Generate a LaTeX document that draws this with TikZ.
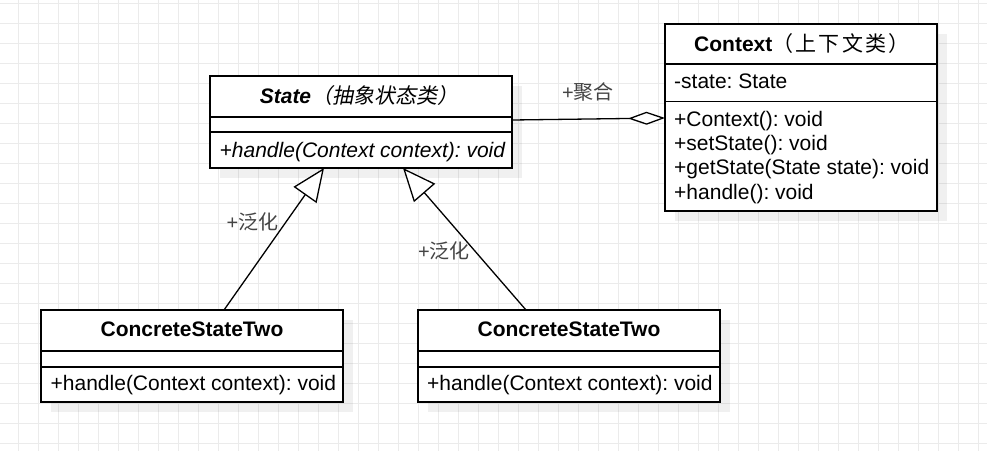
\documentclass[tikz,border=0pt]{standalone}
\usepackage{fontspec}
\setmainfont{Liberation Sans}
\newfontfamily\cjk{Noto Sans CJK SC}
\newfontfamily\cjkwide[LetterSpace=11]{Noto Sans CJK SC}
\newfontfamily\cjkit[FakeSlant=0.2]{Noto Sans CJK SC}
\usetikzlibrary{arrows.meta}
\definecolor{gridc}{HTML}{EBEBEB}
\definecolor{labelc}{HTML}{444444}
\frenchspacing
\begin{document}
\frenchspacing
\begin{tikzpicture}[x=1pt,y=-1pt,
  umlbox/.style={draw=black, line width=1.3pt, fill=white, inner sep=0pt, outer sep=0pt, anchor=north west},
  divider/.style={draw=black, line width=1.3pt},
  shadowc/.style={fill=black, fill opacity=0.06},
  txt/.style={font=\fontsize{21}{24}\selectfont, inner sep=0pt},
  lbl/.style={font=\fontsize{20}{24}\selectfont, inner sep=0pt, text=labelc, anchor=base west},
  gen/.style={draw=black, line width=1.3pt, -{Triangle[open, length=33pt, width=28pt, line width=1.3pt, fill=white]}},
  agg/.style={draw=black, line width=1.3pt, -{Diamond[open, length=37pt, width=13pt, line width=1.3pt, fill=white]}}]
\useasboundingbox (0,0) rectangle (987,451);
\fill[white] (0,0) rectangle (987,451);
% grid
\foreach \gx in {18,38,...,978} \draw[gridc, line width=1pt] (\gx,0) -- (\gx,451);
\foreach \gy in {3,23,...,443} \draw[gridc, line width=1pt] (0,\gy) -- (987,\gy);
% shadows
\fill[shadowc] (220,86) rectangle (522,178);
\fill[shadowc] (675,34) rectangle (947,221);
\fill[shadowc] (51,320) rectangle (353,412);
\fill[shadowc] (428,320) rectangle (730,412);
% State
\node[umlbox, minimum width=302pt, minimum height=92pt] (state) at (210,76) {};
\draw[divider] ([yshift=-41pt]state.north west) -- ([yshift=-41pt]state.north east);
\draw[divider] ([yshift=-56pt]state.north west) -- ([yshift=-56pt]state.north east);
\node[txt, anchor=base] (statetitle) at (359,103.5) {{\bfseries\itshape State}{\cjkit（抽象状态类）}};
\node[txt, anchor=base west] (statem) at (219.5,157.5) {\itshape +handle(Context context): void};
% Context
\node[umlbox, minimum width=272pt, minimum height=187pt] (context) at (665,24) {};
\draw[divider] ([yshift=-40pt]context.north west) -- ([yshift=-40pt]context.north east);
\draw[divider] ([yshift=-77.5pt]context.north west) -- ([yshift=-77.5pt]context.north east);
\node[txt, anchor=base west] (ctxtitle) at (694,51.7) {{\bfseries Context}{\cjkwide（上下文类）}};
\node[txt, anchor=base west] (ctxa) at (674,88.5) {-state: State};
\node[txt, anchor=base west] (ctxm1) at (674,126) {+Context(): void};
\node[txt, anchor=base west] (ctxm2) at (674,150.7) {+setState(): void};
\node[txt, anchor=base west] (ctxm3) at (674,174.5) {+getState(State state): void};
\node[txt, anchor=base west] (ctxm4) at (674,199) {+handle(): void};
% ConcreteStateTwo left
\node[umlbox, minimum width=302pt, minimum height=92pt] (cone) at (41,310) {};
\draw[divider] ([yshift=-41pt]cone.north west) -- ([yshift=-41pt]cone.north east);
\draw[divider] ([yshift=-57pt]cone.north west) -- ([yshift=-57pt]cone.north east);
\node[txt, anchor=base] (conet) at (192,336.7) {\bfseries ConcreteStateTwo};
\node[txt, anchor=base west] (conem) at (50.5,390) {+handle(Context context): void};
% ConcreteStateTwo right
\node[umlbox, minimum width=302pt, minimum height=92pt] (ctwo) at (418,310) {};
\draw[divider] ([yshift=-41pt]ctwo.north west) -- ([yshift=-41pt]ctwo.north east);
\draw[divider] ([yshift=-57pt]ctwo.north west) -- ([yshift=-57pt]ctwo.north east);
\node[txt, anchor=base] (ctwot) at (569,336.7) {\bfseries ConcreteStateTwo};
\node[txt, anchor=base west] (ctwom) at (427,390) {+handle(Context context): void};
% connectors
\draw[gen] ([xshift=32pt]cone.north) -- ([xshift=-37pt]state.south);
\draw[gen] ([xshift=-43pt]ctwo.north) -- ([xshift=42pt]state.south);
\draw[agg] ([yshift=2pt]state.east) -- ([yshift=-0.5pt]context.west);
% labels
\node[lbl] (aggl) at (562,99.5) {+{\cjk 聚合}};
\node[lbl] (genl1) at (226.5,229) {+{\cjk 泛化}};
\node[lbl] (genl2) at (418,258) {+{\cjk 泛化}};
\end{tikzpicture}
\end{document}
